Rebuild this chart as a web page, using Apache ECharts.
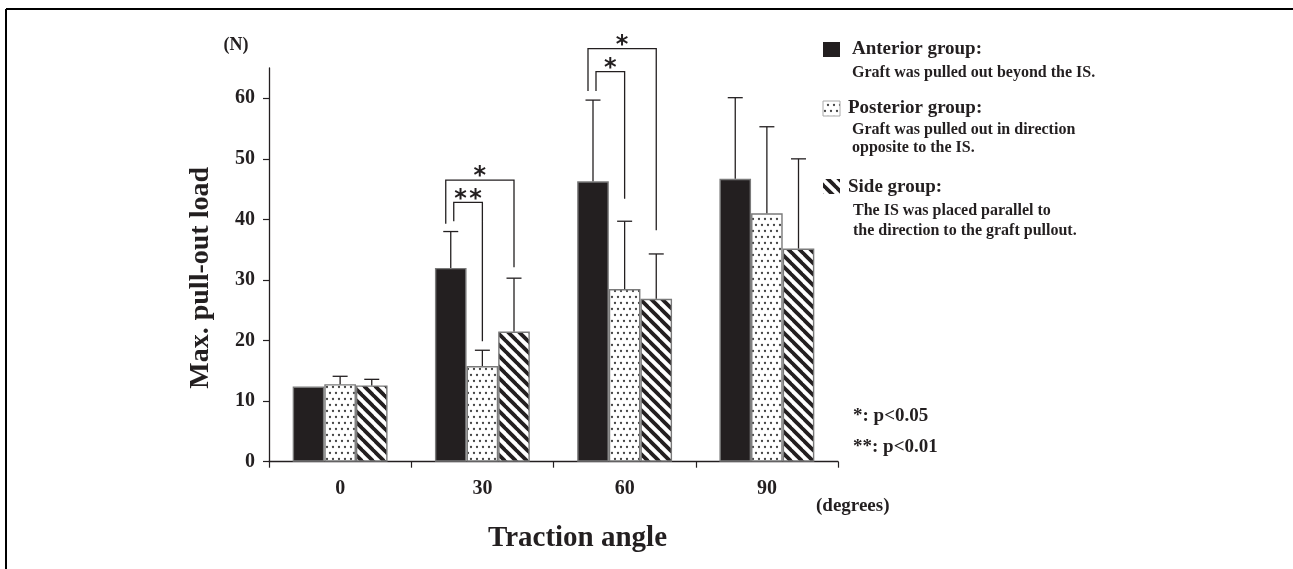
<!DOCTYPE html>
<html><head><meta charset="utf-8">
<script src="https://cdn.jsdelivr.net/npm/echarts@6/dist/echarts.min.js"></script>
<style>html,body{margin:0;padding:0;background:#fff}#c{width:1293px;height:569px}</style>
</head><body><div id="c"></div>
<script>
// ---------- data ----------
const categories = ['0', '30', '60', '90'];
const yTicks = [0, 10, 20, 30, 40, 50, 60];
const anteriorMean = [12.4, 32.0, 46.3, 46.7];
const anteriorSD   = [0,    6.0,  13.4, 13.4];
const posteriorMean = [12.8, 15.8, 28.5, 41.0];
const posteriorSD   = [1.3,  2.6,  11.2, 14.3];
const sideMean = [12.6, 21.5, 26.9, 35.2];
const sideSD   = [1.0,  8.8,  7.4,  14.8];
// significance brackets: [category, leftBar, rightBar, topY, leftEndY, rightEndY, outer(1)/inner(0)]
const brackets = [
  [1, 0, 2, 46.5, 39.3, 32.1, 1],
  [1, 0, 1, 42.8, 39.7, 19.9, 0],
  [2, 0, 2, 68.2, 61.2, 38.2, 1],
  [2, 0, 1, 64.4, 61.2, 43.4, 0]
];
const bracketLabels = ['*', '**', '*', '*'];

// ---------- styling ----------
const INK = '#231f20';
const SERIF = '"Liberation Serif","Times New Roman",serif';
const CAT_GAP = 0.333;

function dotCanvas() {
  const S = 12;
  const c = document.createElement('canvas'); c.width = S; c.height = S;
  const g = c.getContext('2d');
  g.fillStyle = '#fff'; g.fillRect(0, 0, S, S);
  g.fillStyle = '#444';
  [[3, 3], [9, 3], [0, 9], [6, 9], [12, 9]].forEach(([x, y]) => {
    g.beginPath(); g.arc(x, y, 1.15, 0, Math.PI * 2); g.fill();
  });
  return c;
}
function stripeCanvas() {
  const P = 11;
  const c = document.createElement('canvas'); c.width = P; c.height = P;
  const g = c.getContext('2d');
  g.fillStyle = '#fff'; g.fillRect(0, 0, P, P);
  g.strokeStyle = INK; g.lineWidth = 3.8;
  for (let k = -1; k <= 1; k++) {
    g.beginPath(); g.moveTo(-1, k * P - 1); g.lineTo(P + 1, k * P + P + 1); g.stroke();
  }
  return c;
}
const dotFill = { image: dotCanvas(), repeat: 'repeat' };
const stripeFill = { image: stripeCanvas(), repeat: 'repeat' };

function barSeries(name, data, fill) {
  return {
    type: 'bar', name, data,
    barGap: '0%', barCategoryGap: (CAT_GAP * 100) + '%',
    itemStyle: { color: fill, borderColor: '#7a7a7a', borderWidth: 1.4 },
    z: 2, silent: true
  };
}
function errorSeries(idx, mean, sd) {
  return {
    type: 'custom', silent: true, z: 3, clip: false,
    data: categories.map((c, i) => [i, mean[i], mean[i] + sd[i]]),
    renderItem(params, api) {
      const i = api.value(0);
      if (api.value(2) <= api.value(1)) return null;
      const base = api.coord([i, api.value(1)]);
      const top = api.coord([i, api.value(2)]);
      const catW = api.size([1, 0])[0];
      const bw = catW * (1 - CAT_GAP) / 3;
      const x = base[0] + (idx - 1) * bw;
      const st = { stroke: INK, lineWidth: 1.3 };
      return { type: 'group', children: [
        { type: 'line', shape: { x1: x, y1: base[1], x2: x, y2: top[1] }, style: st },
        { type: 'line', shape: { x1: x - 7.5, y1: top[1], x2: x + 7.5, y2: top[1] }, style: st }
      ]};
    }
  };
}
const bracketSeries = {
  type: 'custom', silent: true, z: 4, clip: false,
  data: brackets,
  renderItem(params, api) {
    const cat = api.value(0);
    const catW = api.size([1, 0])[0];
    const bw = catW * (1 - CAT_GAP) / 3;
    const cx = api.coord([cat, 0])[0];
    const shift = api.value(6) === 1 ? -5 : 3;
    const xl = cx + (api.value(1) - 1) * bw + shift;
    const xr = cx + (api.value(2) - 1) * bw;
    const yt = api.coord([cat, api.value(3)])[1];
    const yl = api.coord([cat, api.value(4)])[1];
    const yr = api.coord([cat, api.value(5)])[1];
    const label = bracketLabels[params.dataIndex];
    const children = [{
      type: 'polyline',
      shape: { points: [[xl, yl], [xl, yt], [xr, yt], [xr, yr]] },
      style: { stroke: INK, lineWidth: 1.3, fill: null }
    }];
    const mid = (xl + xr) / 2, n = label.length, sp = 15;
    for (let k = 0; k < n; k++) {
      children.push({
        type: 'text',
        style: {
          text: '*', x: mid + (k - (n - 1) / 2) * sp, y: yt - 3,
          fill: INK, font: 'bold 24px "DejaVu Sans", sans-serif',
          align: 'center', verticalAlign: 'middle'
        }
      });
    }
    return { type: 'group', children };
  }
};

function txt(text, x, y, size, align) {
  return { type: 'text', x, y, silent: true, style: {
    text, fill: INK, font: 'bold ' + size + 'px ' + SERIF,
    align: align || 'left', verticalAlign: 'middle' } };
}
function swatch(x, y, fill, stroke) {
  return { type: 'rect', shape: { x, y, width: 17, height: 15 }, silent: true,
    style: { fill, stroke: stroke || null, lineWidth: 1 } };
}

const chart = echarts.init(document.getElementById('c'), null, { renderer: 'canvas' });
chart.setOption({
  animation: false,
  backgroundColor: '#fff',
  grid: { left: 269, right: 455, top: 68, bottom: 107.3 },
  xAxis: {
    type: 'category', data: categories,
    axisLine: { lineStyle: { color: INK, width: 1.3 } },
    axisTick: { show: true, length: 6, interval: 0, alignWithLabel: false, lineStyle: { color: INK, width: 1.2 } },
    axisLabel: { margin: 17, color: INK, fontFamily: SERIF, fontWeight: 'bold', fontSize: 20 },
    name: 'Traction angle', nameLocation: 'middle', nameGap: 62,
    nameTextStyle: { color: INK, fontFamily: SERIF, fontWeight: 'bold', fontSize: 29, padding: [0, 0, 0, 48] }
  },
  yAxis: {
    type: 'value', min: 0, max: 65, interval: 10,
    axisLine: { show: true, lineStyle: { color: INK, width: 1.3 } },
    axisTick: { show: true, length: 6, customValues: yTicks, lineStyle: { color: INK, width: 1.2 } },
    axisLabel: { margin: 14, customValues: yTicks, color: INK, fontFamily: SERIF, fontWeight: 'bold', fontSize: 20 },
    splitLine: { show: false },
    name: 'Max. pull-out load', nameLocation: 'middle', nameGap: 54,
    nameTextStyle: { color: INK, fontFamily: SERIF, fontWeight: 'bold', fontSize: 28, padding: [0, 26, 0, 0] }
  },
  series: [
    barSeries('Anterior group', anteriorMean, INK),
    barSeries('Posterior group', posteriorMean, dotFill),
    barSeries('Side group', sideMean, stripeFill),
    errorSeries(0, anteriorMean, anteriorSD),
    errorSeries(1, posteriorMean, posteriorSD),
    errorSeries(2, sideMean, sideSD),
    bracketSeries
  ],
  graphic: [
    { type: 'line', silent: true, shape: { x1: 6, y1: 9, x2: 1293, y2: 9 }, style: { stroke: '#000', lineWidth: 2 } },
    { type: 'line', silent: true, shape: { x1: 6, y1: 9, x2: 6, y2: 569 }, style: { stroke: '#000', lineWidth: 2 } },
    txt('(N)', 236, 45, 18, 'center'),
    swatch(823, 42, INK),
    txt('Anterior group:', 852, 49, 19),
    txt('Graft was pulled out beyond the IS.', 852, 73, 16),
    swatch(823, 101, dotFill, '#aaa'),
    txt('Posterior group:', 848, 108, 19),
    txt('Graft was pulled out in direction', 852, 130, 16),
    txt('opposite to the IS.', 852, 148, 16),
    swatch(823, 179, stripeFill),
    txt('Side group:', 848, 187, 19),
    txt('The IS was placed parallel to', 853, 211, 16),
    txt('the direction to the graft pullout.', 853, 231, 16),
    txt('*: p<0.05', 853, 416, 19),
    txt('**: p<0.01', 853, 447, 19),
    txt('(degrees)', 816, 506, 19)
  ]
});
</script>
</body></html>
